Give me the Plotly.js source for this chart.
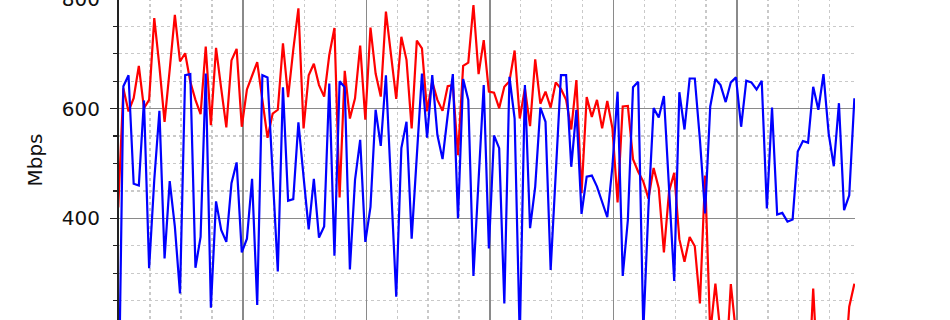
<!DOCTYPE html>
<html><head><meta charset="utf-8">
<script src="https://cdn.plot.ly/plotly-3.0.1.min.js"></script>
<style>
html,body{margin:0;padding:0;overflow:hidden;background:#fff;width:950px;height:320px}
#chart{position:absolute;left:0;top:-20px;width:950px;height:380px}
</style>
</head><body><div id="chart"></div>
<script>
// sample index (one point per measurement)
const sampleIndex = Array.from({length: 144}, (_, i) => i);

// red series (Mbps)
const redSeries = [
 420,637,595,619,678,601,616,765,677,576,671,771,686,701,649,616,590,713,570,711,
 637,566,688,709,567,635,660,685,616,547,591,598,719,621,707,783,564,661,682,643,
 622,698,747,438,669,582,619,715,580,748,664,622,777,698,618,731,689,564,724,710,
 595,649,616,596,641,643,515,678,684,789,663,725,631,629,601,640,650,706,582,637,
 568,690,609,631,602,648,636,616,562,652,446,621,585,616,564,614,564,429,604,605,
 508,485,467,436,492,455,338,449,483,362,321,366,349,245,478,190,281,190,120,280,
 190,150,120,140,110,130,100,120,90,110,130,100,120,90,80,272,90,110,120,100,
 90,110,239,281
];

// blue series (Mbps)
const blueSeries = [
 0,641,661,463,460,615,309,470,596,327,468,385,263,661,663,310,366,664,237,431,
 379,357,464,502,338,363,472,242,661,657,480,303,639,432,435,575,476,380,472,365,
 385,646,332,650,639,307,470,543,357,421,598,532,661,458,257,528,576,363,512,664,
 547,661,552,508,588,663,400,654,616,295,470,643,345,551,528,245,658,582,180,643,
 382,458,602,576,306,482,661,661,494,598,408,476,478,458,428,402,495,631,295,397,
 639,649,195,420,601,584,623,455,286,630,562,655,655,543,409,604,654,643,612,648,
 657,567,651,648,635,651,418,602,407,410,394,398,522,541,538,640,598,663,555,495,
 610,415,442,619
];

const yTickVals = [400, 600, 800];
const yTickText = ['400', '600', '800'];
const yTitle = 'Mbps';

const traces = [
  {x: sampleIndex, y: redSeries, type: 'scatter', mode: 'lines',
   line: {color: '#ff0000', width: 2.2}, hoverinfo: 'skip'},
  {x: sampleIndex, y: blueSeries, type: 'scatter', mode: 'lines',
   line: {color: '#0000ff', width: 2.2}, hoverinfo: 'skip'}
];

const layout = {
  width: 950, height: 380,
  margin: {l: 119, r: 95, t: 0, b: 20, pad: 0},
  paper_bgcolor: '#ffffff', plot_bgcolor: '#ffffff',
  showlegend: false,
  font: {family: 'DejaVu Sans, sans-serif', color: '#111'},
  xaxis: {
    range: [0.15, 143.12], showticklabels: false, ticks: '', showline: false, zeroline: false,
    showgrid: true, tick0: 0.2, dtick: 24, gridcolor: '#8a8a8a', gridwidth: 1.6,
    minor: {tick0: 0.2, dtick: 6, showgrid: true, gridcolor: '#c9c9c9', griddash: 'dot', gridwidth: 1.3}
  },
  yaxis: {
    range: [178.2, 834.6], tickmode: 'array', tickvals: yTickVals, ticktext: yTickText,
    showline: true, linecolor: '#222', linewidth: 2, mirror: false,
    ticks: 'outside', ticklen: 7, tickwidth: 1.6, tickcolor: '#222',
    ticklabelstandoff: 6,
    tickfont: {family: 'DejaVu Sans, sans-serif', size: 20, color: '#111'},
    showgrid: true, gridcolor: '#8a8a8a', gridwidth: 1.6, zeroline: false,
    minor: {tick0: 0, dtick: 50, ticks: 'outside', ticklen: 4, tickwidth: 1.2, tickcolor: '#222',
            showgrid: true, gridcolor: '#c9c9c9', griddash: 'dot', gridwidth: 1.3},
    title: {text: yTitle, font: {family: 'DejaVu Sans, sans-serif', size: 20, color: '#111'}, standoff: 14}
  }
};

Plotly.newPlot('chart', traces, layout, {staticPlot: true, displayModeBar: false});
</script>
</body></html>
